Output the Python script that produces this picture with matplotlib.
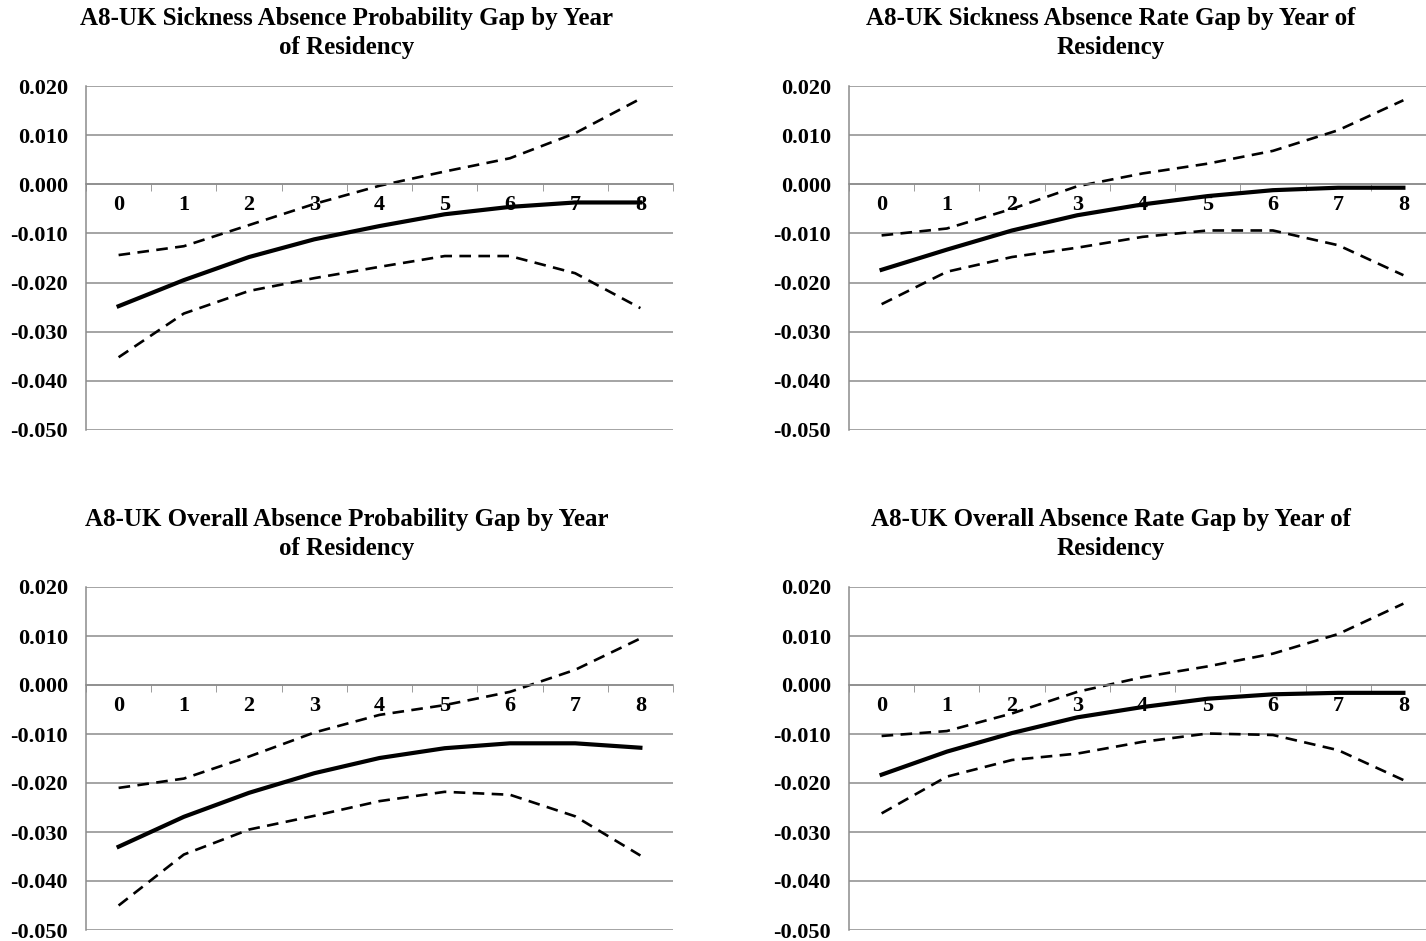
import matplotlib.pyplot as plt
from matplotlib.ticker import FormatStrFormatter

# Year of residency (categories)
years = [0, 1, 2, 3, 4, 5, 6, 7, 8]
year_labels = ['0', '1', '2', '3', '4', '5', '6', '7', '8']

# Sickness absence probability gap
sick_prob = [-0.0248, -0.0195, -0.0148, -0.0112, -0.0085, -0.0061, -0.0046, -0.0037, -0.0037]
sick_prob_hi = [-0.0144, -0.0126, -0.0083, -0.0040, -0.0003, 0.0026, 0.0053, 0.0104, 0.0174]
sick_prob_lo = [-0.0352, -0.0263, -0.0217, -0.0191, -0.0168, -0.0146, -0.0146, -0.0181, -0.0252]

# Sickness absence rate gap
sick_rate = [-0.0174, -0.0133, -0.0094, -0.0063, -0.0041, -0.0024, -0.0012, -0.0007, -0.0007]
sick_rate_hi = [-0.0104, -0.0090, -0.0050, -0.0004, 0.0022, 0.0042, 0.0068, 0.0110, 0.0171]
sick_rate_lo = [-0.0244, -0.0178, -0.0148, -0.0129, -0.0107, -0.0094, -0.0094, -0.0124, -0.0185]

# Overall absence probability gap
all_prob = [-0.0330, -0.0269, -0.0220, -0.0180, -0.0149, -0.0129, -0.0119, -0.0119, -0.0128]
all_prob_hi = [-0.0210, -0.0191, -0.0146, -0.0097, -0.0061, -0.0041, -0.0014, 0.0031, 0.0095]
all_prob_lo = [-0.0450, -0.0346, -0.0295, -0.0267, -0.0237, -0.0218, -0.0224, -0.0268, -0.0348]

# Overall absence rate gap
all_rate = [-0.0183, -0.0136, -0.0098, -0.0066, -0.0045, -0.0028, -0.0019, -0.0016, -0.0016]
all_rate_hi = [-0.0104, -0.0094, -0.0058, -0.0014, 0.0016, 0.0038, 0.0064, 0.0104, 0.0166]
all_rate_lo = [-0.0262, -0.0187, -0.0153, -0.0140, -0.0116, -0.0099, -0.0102, -0.0133, -0.0194]

titles = [
    'A8-UK Sickness Absence Probability Gap by Year\nof Residency',
    'A8-UK Sickness Absence Rate Gap by Year of\nResidency',
    'A8-UK Overall Absence Probability Gap by Year\nof Residency',
    'A8-UK Overall Absence Rate Gap by Year of\nResidency',
]
series = [
    (sick_prob, sick_prob_hi, sick_prob_lo),
    (sick_rate, sick_rate_hi, sick_rate_lo),
    (all_prob, all_prob_hi, all_prob_lo),
    (all_rate, all_rate_hi, all_rate_lo),
]

plt.rcParams['font.family'] = ['Liberation Serif', 'DejaVu Serif']

W, H = 1426, 941
fig = plt.figure(figsize=(W / 100, H / 100), dpi=100)

# axes boxes in pixels: left, top, width, height
boxes = [(86, 86, 587, 344), (849, 86, 587, 344),
         (86, 587, 587, 343), (849, 587, 587, 343)]
title_pos = [(347, 33), (1111, 33), (347, 534), (1111, 534)]
grid_col = '#8c8c8c'

for box, tpos, title, (mid, hi, lo) in zip(boxes, title_pos, titles, series):
    l, t, w, h = box
    ax = fig.add_axes([l / W, 1 - (t + h) / H, w / W, h / H])
    ax.plot(years, hi, color='black', lw=1.9, ls=(0, (4.4, 2.8)))
    ax.plot(years, lo, color='black', lw=1.9, ls=(0, (4.4, 2.8)))
    ax.plot(years, mid, color='black', lw=3.0)

    ax.set_xlim(-0.5, 8.5)
    ax.set_ylim(-0.05, 0.02)
    ax.set_yticks([0.02, 0.01, 0.0, -0.01, -0.02, -0.03, -0.04, -0.05])
    ax.yaxis.set_major_formatter(FormatStrFormatter('%.3f'))
    ax.grid(axis='y', color=grid_col, lw=1.1)
    ax.set_axisbelow(True)

    for s in ['top', 'right']:
        ax.spines[s].set_visible(False)
    ax.spines['left'].set_color(grid_col)
    ax.spines['left'].set_linewidth(1.1)
    ax.spines['bottom'].set_position(('data', 0))
    ax.spines['bottom'].set_color(grid_col)
    ax.spines['bottom'].set_linewidth(1.1)

    ax.set_xticks(years)
    ax.set_xticklabels(year_labels)
    ax.set_xticks([y + 0.5 for y in [-1] + years], minor=True)
    ax.tick_params(axis='x', which='major', length=0, pad=8, labelsize=16)
    ax.tick_params(axis='x', which='minor', length=5, color=grid_col, direction='out')
    ax.tick_params(axis='y', length=0, pad=13, labelsize=16)
    for lab in ax.get_xticklabels() + ax.get_yticklabels():
        lab.set_fontweight('bold')

    fig.text(tpos[0] / W, 1 - tpos[1] / H, title, ha='center', va='center',
             fontsize=18, fontweight='bold', linespacing=1.3)

plt.savefig('out.png', dpi=100)
